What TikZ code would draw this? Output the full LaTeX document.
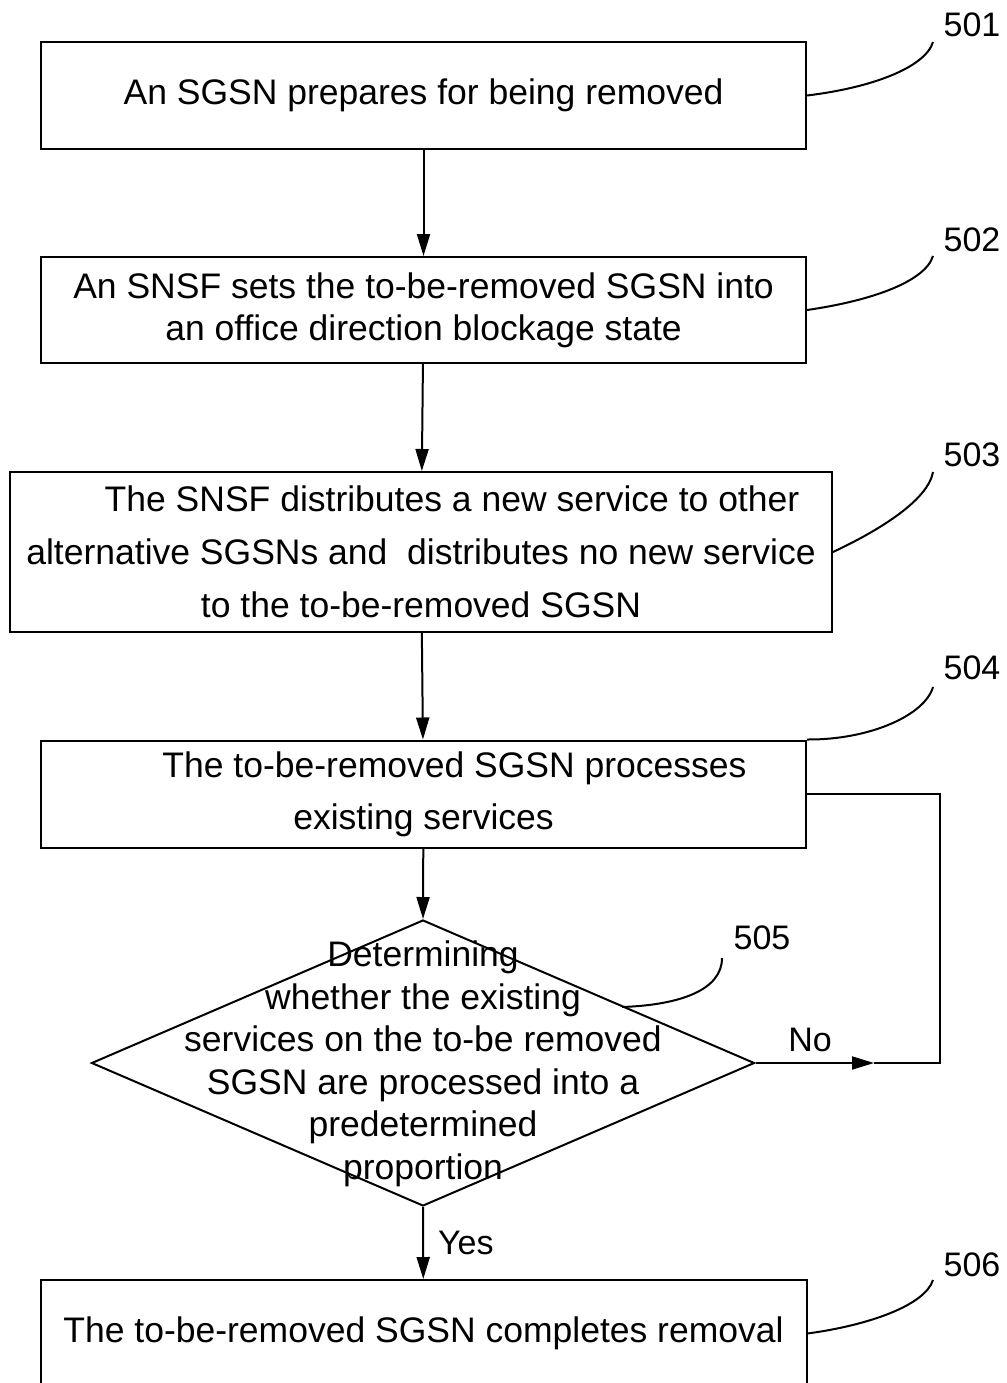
\documentclass[tikz,border=0pt]{standalone}
\usepackage{fontspec}
\setmainfont{Liberation Sans}
\usetikzlibrary{arrows.meta,shapes.geometric}

\tikzset{
	stepbox/.style={draw, line width=2pt, inner sep=0, align=center, font=\fontsize{35.5}{42}\selectfont},
	flow/.style={line width=2pt, -{Triangle[length=22pt,width=13pt]}},
	tag/.style={inner sep=0, font=\fontsize{34}{40}\selectfont},
	lead/.style={line width=2pt}
}

\begin{document}
\begin{tikzpicture}[x=1pt,y=-1pt]
		\useasboundingbox (0,0) rectangle (1006,1383);
		\node [stepbox, minimum width=765pt, minimum height=107pt] (s501) at (423.5,95.5) {An SGSN prepares for being removed};
		\node [stepbox, minimum width=765pt, minimum height=106pt] (s502) at (423.5,310) {An SNSF sets the to-be-removed SGSN into\\an office direction blockage state};
		\node [stepbox, minimum width=822pt, minimum height=160pt, font=\fontsize{35.5}{53}\selectfont] (s503) at (421,552) {\hspace*{62pt}The SNSF distributes a new service to other\\alternative SGSNs and\ \ distributes no new service\\to the to-be-removed SGSN};
		\node [stepbox, minimum width=765pt, minimum height=107pt, font=\fontsize{35.5}{52}\selectfont] (s504) at (423.5,794) {\hspace*{62pt}The to-be-removed SGSN processes\\existing services};
		\node [diamond, draw, line width=2pt, inner sep=0, minimum width=663pt, minimum height=286pt] (s505) at (423,1063) {};
		\node [align=center, inner sep=0, font=\fontsize{35.5}{42.5}\selectfont] (q505) at (423,1064) {Determining\\whether the existing\\services on the to-be removed\\SGSN are processed into a\\predetermined\\proportion};
		\node [stepbox, minimum width=766pt, minimum height=107pt] (s506) at (423.5,1333.5) {The to-be-removed SGSN completes removal};
		\draw [flow] (s501) -- (s502);
		\draw [flow] (s502) -- (s503);
		\draw [flow] (s503) -- (s504);
		\draw [flow] (s504) -- (s505.north);
		\draw [flow] (s505.south) -- node [right, tag, xshift=14pt] (yes) {Yes} (s506);
		\coordinate (noend) at (874,1063);
		\coordinate (loop) at (940,1063);
		\draw [flow] (s505.east) -- (noend);
		\draw [lead] (noend) -- (loop) |- (s504.east);
		\node [tag] (no) at (810,1040) {No};
		% reference numerals
		\node [tag] (t501) at (972,25) {501};
		\node [tag] (t502) at (972,240) {502};
		\node [tag] (t503) at (972,455) {503};
		\node [tag] (t504) at (972,668) {504};
		\node [tag] (t505) at (762,938) {505};
		\node [tag] (t506) at (972,1265) {506};
		\draw [lead] (s501.east) .. controls (870,88) and (925,68) .. (933,42);
		\draw [lead] (s502.east) .. controls (870,301) and (925,282) .. (933,256);
		\draw [lead] (s503.east) .. controls (880,530) and (928,500) .. (933,472);
		\draw [lead] (s504.north east) .. controls (870,740) and (925,715) .. (933,687);
		\draw [lead] (622,1007) .. controls (680,1005) and (722,990) .. (722,958);
		\draw [lead] (s506.east) .. controls (870,1325) and (925,1305) .. (933,1280);
	\end{tikzpicture}
\end{document}
